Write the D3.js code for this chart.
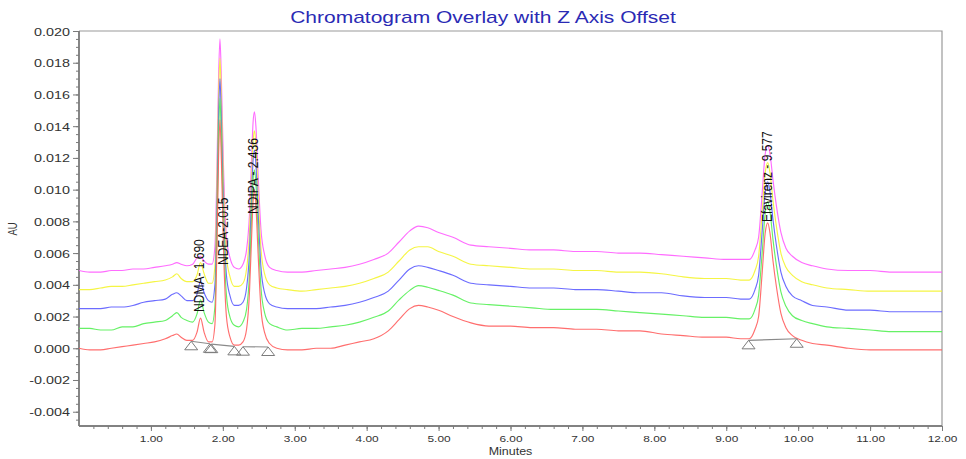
<!DOCTYPE html>
<html><head><meta charset="utf-8">
<script src="https://cdn.jsdelivr.net/npm/d3@7"></script>
<style>body{margin:0;background:#fff} svg{display:block}</style>
</head><body><svg id="chart" width="966" height="459"></svg>
<script>
// ---------- data ----------
const chartTitle = "Chromatogram Overlay with Z Axis Offset";
const xAxisTitle = "Minutes";
const yAxisTitle = "AU";

const minutes = [0.00,0.15,0.30,0.45,0.60,0.75,0.90,1.05,1.20,
1.30,1.36,1.42,1.50,1.58,1.64,1.69,1.74,1.80,1.85,
1.89,1.92,1.94,1.96,1.98,2.01,2.05,2.10,2.16,2.22,
2.28,2.33,2.37,2.40,2.42,2.44,2.46,2.49,2.53,2.58,
2.65,2.75,2.90,3.10,3.30,3.50,3.70,3.90,4.10,4.30,
4.45,4.60,4.72,4.85,5.00,5.20,5.45,5.70,6.00,6.30,
6.60,6.90,7.20,7.50,7.80,8.10,8.40,8.70,9.00,9.20,
9.32,9.40,9.45,9.50,9.54,9.577,9.61,9.65,9.70,9.76,
9.83,9.92,10.05,10.20,10.40,10.70,11.00,11.30,11.60,12.00];

// signal of each injection (AU), before the Z-axis offset is applied
const magentaAU = [0.0000,-0.0001,-0.0001,0.0000,0.0000,0.0001,0.0001,0.0002,0.0003,
0.0004,0.0005,0.0004,0.0003,0.0004,0.0008,0.0009,0.0006,0.0004,0.0004,
0.0015,0.0069,0.0120,0.0146,0.0120,0.0064,0.0021,0.0008,0.0002,0.0001,
0.0004,0.0013,0.0035,0.0071,0.0093,0.0100,0.0091,0.0061,0.0026,0.0010,
0.0002,0.0000,-0.0001,-0.0001,0.0000,0.0001,0.0002,0.0004,0.0007,0.0011,
0.0018,0.0025,0.0028,0.0027,0.0024,0.0021,0.0016,0.0015,0.0014,0.0013,
0.0013,0.0012,0.0012,0.0011,0.0011,0.0010,0.0009,0.0008,0.0007,0.0007,
0.0007,0.0013,0.0021,0.0049,0.0073,0.0079,0.0073,0.0057,0.0040,0.0024,
0.0014,0.0009,0.0005,0.0003,0.0001,0.0000,0.0000,-0.0001,-0.0001,-0.0001];

const yellowAU = [0.0000,0.0000,0.0001,0.0002,0.0002,0.0003,0.0004,0.0005,0.0006,
0.0008,0.0010,0.0007,0.0005,0.0005,0.0009,0.0017,0.0010,0.0004,0.0004,
0.0015,0.0069,0.0120,0.0146,0.0120,0.0064,0.0021,0.0008,0.0002,0.0002,
0.0004,0.0013,0.0035,0.0071,0.0093,0.0100,0.0091,0.0061,0.0026,0.0010,
0.0003,0.0001,0.0000,-0.0001,0.0000,0.0001,0.0002,0.0004,0.0007,0.0011,
0.0018,0.0025,0.0027,0.0027,0.0024,0.0021,0.0016,0.0015,0.0014,0.0013,
0.0013,0.0012,0.0012,0.0011,0.0011,0.0010,0.0008,0.0007,0.0007,0.0006,
0.0006,0.0012,0.0021,0.0049,0.0073,0.0080,0.0073,0.0056,0.0039,0.0023,
0.0014,0.0009,0.0005,0.0003,0.0001,0.0000,-0.0001,-0.0001,-0.0001,-0.0001];

const blueAU = [0.0000,0.0000,0.0000,0.0001,0.0001,0.0002,0.0004,0.0005,0.0006,
0.0009,0.0010,0.0008,0.0005,0.0005,0.0009,0.0017,0.0010,0.0005,0.0004,
0.0015,0.0068,0.0119,0.0145,0.0119,0.0063,0.0021,0.0008,0.0002,0.0002,
0.0004,0.0013,0.0035,0.0071,0.0093,0.0100,0.0091,0.0061,0.0026,0.0010,
0.0003,0.0001,0.0000,0.0000,0.0000,0.0001,0.0002,0.0004,0.0007,0.0011,
0.0018,0.0025,0.0027,0.0026,0.0024,0.0021,0.0016,0.0015,0.0014,0.0013,
0.0013,0.0012,0.0012,0.0011,0.0010,0.0010,0.0008,0.0007,0.0007,0.0006,
0.0006,0.0012,0.0021,0.0049,0.0073,0.0080,0.0073,0.0056,0.0039,0.0023,
0.0014,0.0008,0.0005,0.0002,0.0001,-0.0001,-0.0001,-0.0002,-0.0002,-0.0002];

const greenAU = [0.0000,0.0000,-0.0001,-0.0001,0.0001,0.0001,0.0003,0.0004,0.0005,
0.0008,0.0010,0.0007,0.0005,0.0004,0.0009,0.0018,0.0010,0.0004,0.0003,
0.0014,0.0067,0.0119,0.0145,0.0119,0.0063,0.0021,0.0007,0.0002,0.0001,
0.0004,0.0012,0.0034,0.0071,0.0093,0.0100,0.0091,0.0061,0.0026,0.0010,
0.0003,0.0001,-0.0001,0.0000,0.0000,0.0001,0.0002,0.0004,0.0007,0.0011,
0.0018,0.0024,0.0027,0.0026,0.0024,0.0021,0.0016,0.0015,0.0014,0.0013,
0.0012,0.0012,0.0012,0.0011,0.0010,0.0009,0.0008,0.0007,0.0007,0.0006,
0.0006,0.0012,0.0021,0.0048,0.0072,0.0080,0.0073,0.0056,0.0039,0.0023,
0.0014,0.0008,0.0005,0.0003,0.0001,0.0000,-0.0001,-0.0002,-0.0002,-0.0002];

const redAU = [0.0000,-0.0001,-0.0001,0.0000,0.0001,0.0002,0.0003,0.0004,0.0006,
0.0008,0.0009,0.0007,0.0005,0.0005,0.0010,0.0019,0.0010,0.0004,0.0004,
0.0015,0.0068,0.0118,0.0144,0.0118,0.0062,0.0020,0.0007,0.0002,0.0002,
0.0004,0.0012,0.0035,0.0070,0.0092,0.0100,0.0090,0.0060,0.0025,0.0010,
0.0003,0.0000,-0.0001,-0.0001,0.0000,0.0000,0.0002,0.0004,0.0006,0.0011,
0.0018,0.0025,0.0027,0.0026,0.0024,0.0020,0.0016,0.0014,0.0014,0.0013,
0.0013,0.0012,0.0012,0.0011,0.0011,0.0009,0.0008,0.0007,0.0007,0.0006,
0.0006,0.0012,0.0020,0.0048,0.0072,0.0079,0.0072,0.0055,0.0038,0.0022,
0.0013,0.0008,0.0005,0.0003,0.0002,0.0000,-0.0001,-0.0001,-0.0001,-0.0001];

const traceColors = ["#ff5cff", "#f4f430", "#5c5cff", "#55f055", "#ff5e5e"];
const zOffsets = [0.0049, 0.0037, 0.0025, 0.00125, 0.0];

const xTickValues = [1,2,3,4,5,6,7,8,9,10,11,12];
const xTickLabels = ["1.00","2.00","3.00","4.00","5.00","6.00","7.00","8.00","9.00","10.00","11.00","12.00"];
const yTickValues = [-0.004,-0.002,0.000,0.002,0.004,0.006,0.008,0.010,0.012,0.014,0.016,0.018,0.020];
const yTickLabels = ["-0.004","-0.002","0.000","0.002","0.004","0.006","0.008","0.010","0.012","0.014","0.016","0.018","0.020"];

const peakNames = ["NDMA- 1.690", "NDEA-2.015", "NDIPA - 2.436", "Efavirenz - 9.577"];
const peakTimes = [1.690, 2.015, 2.436, 9.577];
const peakLabelAU = [0.00229, 0.00525, 0.00847, 0.00796];

const baselineTimes = [1.56, 1.82, 1.84, 2.16, 2.28, 2.63, 9.31, 9.98];
const baselineAU = [0.00044, 0.00028, 0.00026, 0.00012, 0.00010, 0.00008, 0.00050, 0.00060];

// ---------- drawing ----------
const svg = d3.select("#chart");
const W = 966, H = 459;
const plot = {left: 79, right: 942, top: 31, bottom: 426};
const SX = 1.25; // horizontal stretch of the original screenshot text
const FONT = "'Liberation Sans', Arial, sans-serif";

const x = d3.scaleLinear().domain([0, 12]).range([plot.left, plot.right]);
const y = d3.scaleLinear().domain([-0.0049, 0.020]).range([plot.bottom, plot.top]);

svg.append("rect").attr("width", W).attr("height", H).attr("fill", "#fff");

// frame (top & right)
svg.append("path")
  .attr("d", `M${plot.left},${plot.top}H${plot.right}V${plot.bottom}`)
  .attr("fill", "none").attr("stroke", "#9a9a9a").attr("stroke-width", 1.2);

// y axis minor + major
const yMinor = d3.range(-0.0045, 0.02001, 0.0005).map(v => +v.toFixed(4));
const yAxisMinor = svg.append("g").attr("transform", `translate(${plot.left},0)`)
  .call(d3.axisLeft(y).tickValues(yMinor).tickSize(3).tickFormat(""));
const yAxisMajor = svg.append("g").attr("transform", `translate(${plot.left},0)`)
  .call(d3.axisLeft(y).tickValues(yTickValues).tickSize(6).tickFormat((d, i) => yTickLabels[i]));
[yAxisMinor, yAxisMajor].forEach(g => {
  g.select(".domain").attr("stroke", "#7a7a7a").attr("stroke-width", 1.4)
    .attr("d", `M0,${plot.top}V${plot.bottom}`);
  g.selectAll(".tick line").attr("stroke", "#7a7a7a");
});
yAxisMajor.selectAll(".tick text").each(function () {
  const t = d3.select(this);
  t.attr("x", null).attr("dy", null);
  t.attr("transform", `translate(-9,4) scale(${SX},1)`)
   .attr("font-family", FONT).attr("font-size", 11.5).attr("fill", "#333")
   .attr("text-anchor", "end");
});

// x axis minor + major
const xMinor = d3.range(0.2, 12.001, 0.2).map(v => +v.toFixed(1));
const xAxisMinor = svg.append("g").attr("transform", `translate(0,${plot.bottom})`)
  .call(d3.axisBottom(x).tickValues(xMinor).tickSize(3).tickFormat(""));
const xAxisMajor = svg.append("g").attr("transform", `translate(0,${plot.bottom})`)
  .call(d3.axisBottom(x).tickValues(xTickValues).tickSize(5).tickFormat((d, i) => xTickLabels[i]));
[xAxisMinor, xAxisMajor].forEach(g => {
  g.select(".domain").attr("stroke", "#7a7a7a").attr("stroke-width", 1.4)
    .attr("d", `M${plot.left},0H${plot.right}`);
  g.selectAll(".tick line").attr("stroke", "#7a7a7a");
});
xAxisMajor.selectAll(".tick text").each(function () {
  const t = d3.select(this);
  t.attr("y", null).attr("dy", null);
  t.attr("transform", `translate(0,16) scale(${SX},1)`)
   .attr("font-family", FONT).attr("font-size", 9.5).attr("fill", "#333")
   .attr("text-anchor", "middle");
});

// axis titles & chart title
svg.append("text").text(xAxisTitle)
  .attr("transform", `translate(${x(6.0)},${H - 4}) scale(${SX},1)`)
  .attr("text-anchor", "middle").attr("font-family", FONT).attr("font-size", 10).attr("fill", "#333");
svg.append("text").text(yAxisTitle)
  .attr("transform", `translate(17,229) scale(${SX},1) rotate(-90)`)
  .attr("text-anchor", "middle").attr("font-family", FONT).attr("font-size", 9.5).attr("fill", "#333");
svg.append("text").text(chartTitle)
  .attr("transform", `translate(483,23) scale(${SX},1)`)
  .attr("text-anchor", "middle").attr("font-family", FONT).attr("font-size", 16.8).attr("fill", "#2a2ab4");

// traces
const series = [magentaAU, yellowAU, blueAU, greenAU, redAU];
const line = d3.line().curve(d3.curveMonotoneX);
const gTraces = svg.append("g");
series.forEach((vals, i) => {
  const pts = minutes.map((t, k) => [x(t), y(vals[k] + zOffsets[i])]);
  gTraces.append("path").attr("d", line(pts))
    .attr("fill", "none").attr("stroke", traceColors[i])
    .attr("stroke-width", 1.15).attr("stroke-opacity", 0.9).attr("stroke-linejoin", "round");
});

// integration baselines and triangles
const gBase = svg.append("g");
for (let k = 0; k < baselineTimes.length; k += 2) {
  gBase.append("line")
    .attr("x1", x(baselineTimes[k])).attr("y1", y(baselineAU[k]))
    .attr("x2", x(baselineTimes[k + 1])).attr("y2", y(baselineAU[k + 1]))
    .attr("stroke", "#8a8a8a").attr("stroke-width", 1.1);
}
baselineTimes.forEach((t, k) => {
  const cx = x(t), cy = y(baselineAU[k]);
  gBase.append("path")
    .attr("d", `M${cx},${cy}L${cx + 6.5},${cy + 8.5}L${cx - 6.5},${cy + 8.5}Z`)
    .attr("fill", "none").attr("stroke", "#7c7c7c").attr("stroke-width", 1);
});

// peak labels
peakNames.forEach((name, k) => {
  svg.append("text").text(name)
    .attr("transform", `translate(${x(peakTimes[k]) - 1.5},${y(peakLabelAU[k])}) scale(${SX},1) rotate(-90)`)
    .attr("dy", "0.36em")
    .attr("text-anchor", "start").attr("font-family", FONT).attr("font-size", 12).attr("fill", "#111");
});
</script></body></html>
